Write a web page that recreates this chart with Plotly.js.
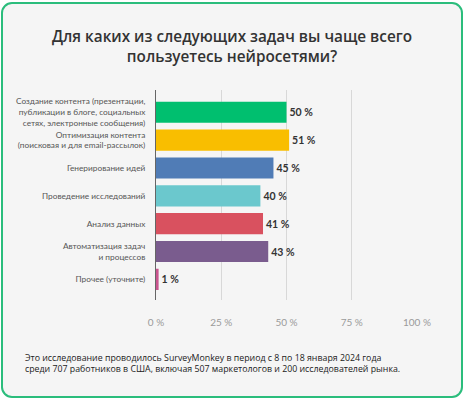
<!DOCTYPE html>
<html>
<head>
<meta charset="utf-8">
<script src="https://cdn.plot.ly/plotly-3.0.1.min.js"></script>
<style>
html,body{margin:0;padding:0;background:#ffffff;}
#wrap{position:absolute;left:1px;top:2px;width:458px;height:392px;border:2.5px solid #2bbd7c;border-radius:11px;background:#f5f5f5;overflow:hidden;}
#chart{position:absolute;left:-3.5px;top:-4.5px;width:464px;height:400px;}
</style>
</head>
<body>
<div id="wrap"><div id="chart"></div></div>
<script>
const categories = [
  "Создание контента (презентации,<br>публикации в блоге, социальных<br>сетях, электронные сообщения)",
  "Оптимизация контента<br>(поисковая и для email-рассылок)",
  "Генерирование идей",
  "Проведение исследований",
  "Анализ данных",
  "Автоматизация задач<br>и процессов",
  "Прочее (уточните)"
];
const values = [50, 51, 45, 40, 41, 43, 1];
const barColors = ["#00bf6f", "#f9be00", "#507cb6", "#6bc8cd", "#d9515f", "#7a5c8e", "#c9548e"];
const xTicks = [0, 25, 50, 75, 100];
const titleText = "Для каких из следующих задач вы чаще всего<br>пользуетесь нейросетями?";
const footnote = "Это исследование проводилось SurveyMonkey в период с 8 по 18 января 2024 года<br>среди 707 работников в США, включая 507 маркетологов и 200 исследователей рынка.";

const trace = {
  type: "bar",
  orientation: "h",
  y: categories,
  x: values,
  marker: {color: barColors},
  width: 0.76,
  text: values.map(v => v + " %"),
  textposition: "outside",
  cliponaxis: false,
  textfont: {family: "Lato, sans-serif", size: 10.5, color: "#333333", weight: "bold"},
  hoverinfo: "none"
};

const layout = {
  width: 464, height: 400,
  paper_bgcolor: "rgba(0,0,0,0)",
  plot_bgcolor: "rgba(0,0,0,0)",
  margin: {l: 156, r: 47, t: 90, b: 100},
  showlegend: false,
  title: {
    text: titleText,
    x: 0.5, xanchor: "center",
    y: 0.895, yanchor: "top",
    font: {family: "Open Sans, sans-serif", size: 15.3, color: "#333333", weight: 600}
  },
  xaxis: {
    range: [0, 100],
    tickvals: xTicks,
    ticktext: xTicks.map(t => t + " %"),
    showgrid: true,
    gridcolor: "#d8d8d8",
    gridwidth: 1,
    zeroline: false,
    showline: false,
    ticks: "",
    ticklabelstandoff: 15,
    tickfont: {family: "Lato, sans-serif", size: 10, color: "#9a9a9a"},
    fixedrange: true
  },
  yaxis: {
    type: "category",
    range: [6.74, -0.8],
    showgrid: false,
    zeroline: false,
    showline: true,
    linecolor: "#666666",
    linewidth: 1,
    ticks: "",
    ticklabelstandoff: 8,
    tickfont: {family: "Lato, sans-serif", size: 8.3, color: "#555555"},
    fixedrange: true
  },
  annotations: [{
    xref: "paper", yref: "paper",
    x: -0.51, y: -0.24,
    xanchor: "left", yanchor: "top",
    align: "left",
    showarrow: false,
    text: footnote,
    font: {family: "Open Sans, sans-serif", size: 8.8, color: "#222222"}
  }]
};

Plotly.newPlot("chart", [trace], layout, {displayModeBar: false, staticPlot: true});
</script>
</body>
</html>
